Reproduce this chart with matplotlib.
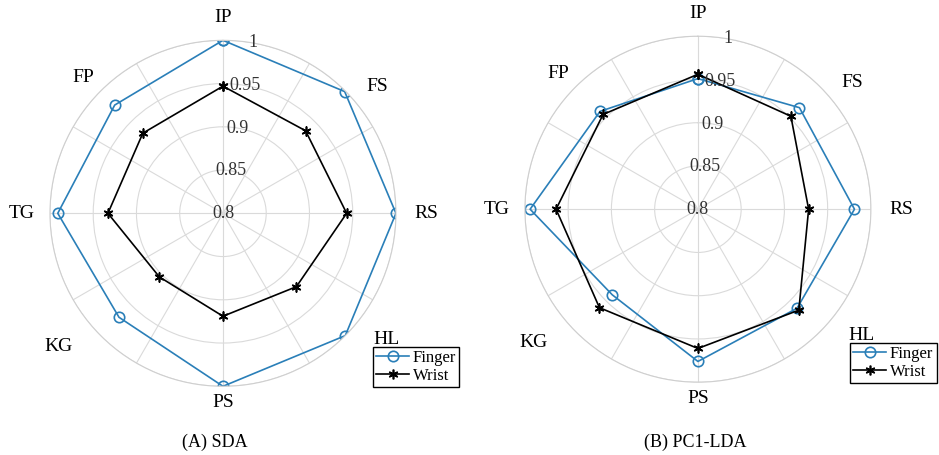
import numpy as np
import matplotlib
matplotlib.use('Agg')
import matplotlib.pyplot as plt

plt.rcParams['font.family'] = ['Liberation Serif', 'DejaVu Serif']

# gesture classes, clockwise from the top
gestures = ['IP', 'FS', 'RS', 'HL', 'PS', 'KG', 'TG', 'FP']

# recognition accuracy per gesture
sda_finger = [1.000, 0.999, 1.000, 1.000, 1.000, 0.970, 0.991, 0.977]
sda_wrist = [0.947, 0.935, 0.943, 0.920, 0.919, 0.904, 0.933, 0.931]
lda_finger = [0.951, 0.966, 0.981, 0.962, 0.976, 0.940, 0.994, 0.960]
lda_wrist = [0.956, 0.952, 0.928, 0.965, 0.961, 0.961, 0.964, 0.955]

r_ticks = [0.8, 0.85, 0.9, 0.95, 1.0]
r_tick_labels = ['0.8', '0.85', '0.9', '0.95', '1']

finger_color = '#2a7fb8'
wrist_color = 'black'
asterisk = (6, 2, 0)

# where each gesture name sits, as a fraction of the plot diameter from the centre
name_pos = [(0.0, 0.567), (0.445, 0.367), (0.587, 0.0), (0.474, -0.364),
            (0.0, -0.546), (-0.474, -0.384), (-0.581, 0.0), (-0.405, 0.393)]


def draw_radar(ax, finger, wrist, title, title_x, legend_xy):
    theta = np.deg2rad(np.arange(len(gestures)) * 360.0 / len(gestures))
    th = np.append(theta, theta[0])
    ax.set_theta_zero_location('N')
    ax.set_theta_direction(-1)
    ax.plot(th, np.append(finger, finger[0]), '-o', color=finger_color, lw=1.2,
            markersize=7.5, markerfacecolor='none', markeredgewidth=1.2, label='Finger')
    ax.plot(th, np.append(wrist, wrist[0]), '-', marker=asterisk, color=wrist_color, lw=1.2,
            markersize=7, markeredgewidth=1.2, label='Wrist')
    ax.set_ylim(0.8, 1.0)
    ax.set_yticks(r_ticks)
    ax.set_yticklabels([])
    # radial labels centred on their rings, a little right of the top spoke
    for r, lab in zip(r_ticks, r_tick_labels):
        ax.text(np.deg2rad(10), r, lab, ha='center', va='center', fontsize=13,
                color='#333333', clip_on=False)
    ax.set_thetagrids(np.arange(0, 360, 30), labels=[''] * 12)
    ax.grid(color='#dadada', lw=0.8)
    ax.spines['polar'].set_color('#cfcfcf')
    ax.spines['polar'].set_linewidth(0.8)
    for (dx, dy), name in zip(name_pos, gestures):
        ax.text(0.5 + dx, 0.5 + dy, name, transform=ax.transAxes, ha='center', va='center',
                fontsize=14, clip_on=False)
    ax.figure.text(title_x, 0.0286, title, ha='center', va='center', fontsize=13)
    ax.legend(loc='lower left', bbox_to_anchor=legend_xy, bbox_transform=ax.figure.transFigure,
              fontsize=12, frameon=True, fancybox=False, edgecolor='black', framealpha=1,
              borderpad=0.2, labelspacing=0.1, handlelength=2.0, handletextpad=0.2,
              borderaxespad=0)


fig = plt.figure(figsize=(9.39, 4.55), dpi=100)
ax1 = fig.add_axes([0.0532, 0.151, 0.3685, 0.7604], projection='polar')
ax2 = fig.add_axes([0.559, 0.160, 0.3685, 0.7604], projection='polar')

draw_radar(ax1, sda_finger, sda_wrist, '(A) SDA', 215 / 939, (0.397, 0.149))
draw_radar(ax2, lda_finger, lda_wrist, '(B) PC1-LDA', 695 / 939, (0.905, 0.158))

fig.savefig('out.png', dpi=100)
